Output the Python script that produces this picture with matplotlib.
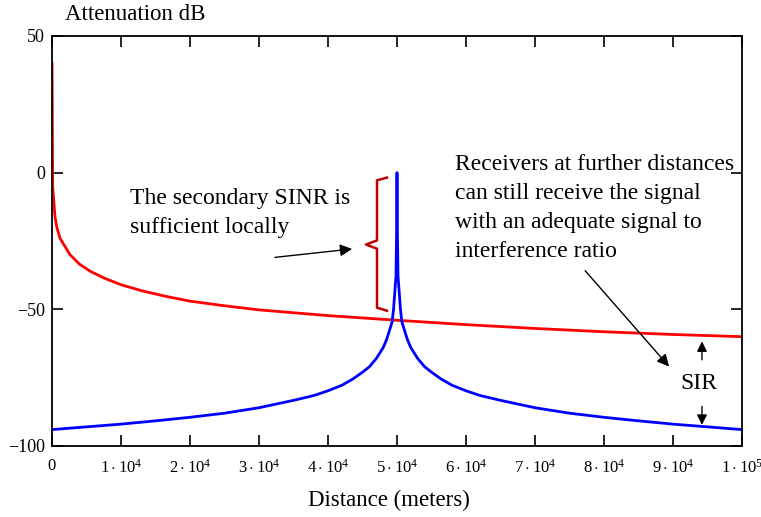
import matplotlib
matplotlib.use('Agg')
import matplotlib.pyplot as plt

# values
red_x = [1, 100, 250, 430, 700, 1160, 2000, 2600, 4000, 5500, 7500, 10000, 13000,
         16400, 20000, 25000, 30000, 40000, 50000, 60000, 70000, 80000, 90000, 100000]
red_y = [40, -5, -10, -16, -20, -24, -27.5, -30, -33.5, -36, -38.5, -41, -43.2,
         -45.2, -47, -48.7, -50.2, -52.3, -54, -55.6, -57, -58.2, -59.2, -60]

blue_x = [0, 5000, 10000, 15000, 20000, 25000, 30000, 35000, 38000, 40000,
          42000, 43600, 45000, 46000, 47000, 48000, 48500, 49000, 49300, 49500,
          49700, 49850, 49950, 50000,
          50050, 50150, 50300, 50500, 50700, 51000, 51500, 52000, 53000, 54000,
          55000, 56400, 58000, 60000, 62000, 65000, 70000, 75000, 80000, 85000,
          90000, 95000, 100000]
blue_y = [-94, -93, -92, -90.8, -89.5, -88, -86, -83.3, -81.5, -79.8,
          -77.8, -75.5, -73, -71, -68, -64, -61, -57, -54.5, -50,
          -43, -38, -20, 0,
          -20, -38, -43, -50, -54.5, -57, -61, -64, -68, -71,
          -73, -75.5, -77.8, -79.8, -81.5, -83.3, -86, -88, -89.5, -90.8,
          -92, -93, -94]

x_ticks = [0, 10000, 20000, 30000, 40000, 50000, 60000, 70000, 80000, 90000, 100000]
x_labels = ['0'] + [r'$%d\cdot10^{4}$' % i for i in range(1, 10)] + [r'$1\cdot10^{5}$']
y_ticks = [50, 0, -50, -100]
y_labels = ['50', '0', '\u221250', '\u2212100']

plt.rcParams['font.family'] = ['Liberation Serif', 'DejaVu Serif']
plt.rcParams['mathtext.fontset'] = 'custom'
plt.rcParams['mathtext.rm'] = 'Liberation Serif'
plt.rcParams['mathtext.it'] = 'Liberation Serif'

fig = plt.figure(figsize=(7.61, 5.17), dpi=100)
ax = fig.add_axes([52 / 761, 1 - 446 / 517, 690 / 761, 410 / 517])

ax.plot(red_x, red_y, color='#ff0000', lw=2)
ax.plot(blue_x, blue_y, color='#0000ff', lw=2)

ax.set_xlim(0, 100000)
ax.set_ylim(-100, 50)
ax.set_xticks(x_ticks)
ax.set_xticklabels(x_labels, fontsize=12)
ax.set_yticks(y_ticks)
ax.set_yticklabels(y_labels, fontsize=13)
ax.tick_params(direction='in', length=8, width=1.2, top=True, right=True)
ax.tick_params(axis='x', pad=9)
ax.tick_params(axis='y', pad=5)
for s in ax.spines.values():
    s.set_linewidth(1.3)

fig.text(65 / 761, 1 - 15 / 517, 'Attenuation dB', fontsize=16.5, va='center', ha='left')
fig.text(389 / 761, 1 - 500 / 517, 'Distance (meters)', fontsize=16.5, va='center', ha='center')

# annotations
sinr_lines = ['The secondary SINR is', 'sufficient locally']
for line, yb in zip(sinr_lines, [-11.3, -22.0]):
    ax.text(11300, yb, line, fontsize=17, va='baseline', ha='left')
ax.plot([48550, 47100, 47100, 45500, 47100, 47100, 48550],
        [-1.8, -2.8, -24.8, -26.3, -27.8, -49.4, -50.5], color='#c00000', lw=1.8)
ax.annotate('', xy=(43900, -27.8), xytext=(31900, -31.1),
            arrowprops=dict(arrowstyle='-|>', color='black', lw=1, mutation_scale=18))

recv_lines = ['Receivers at further distances', 'can still receive the signal',
              'with an adequate signal to', 'interference ratio']
for line, yb in zip(recv_lines, [1.1, -9.5, -20.1, -30.7]):
    ax.text(58400, yb, line, fontsize=17, va='baseline', ha='left')
ax.annotate('', xy=(89700, -71.7), xytext=(77000, -35.1),
            arrowprops=dict(arrowstyle='-|>', color='black', lw=1, mutation_scale=18))

ax.text(93700, -77.2, 'SIR', fontsize=17, va='center', ha='center')
ax.annotate('', xy=(94200, -60.7), xytext=(94200, -69.5),
            arrowprops=dict(arrowstyle='-|>', color='black', lw=1, mutation_scale=15))
ax.annotate('', xy=(94200, -93.3), xytext=(94200, -84.5),
            arrowprops=dict(arrowstyle='-|>', color='black', lw=1, mutation_scale=15))

fig.savefig('out.png', dpi=100)
